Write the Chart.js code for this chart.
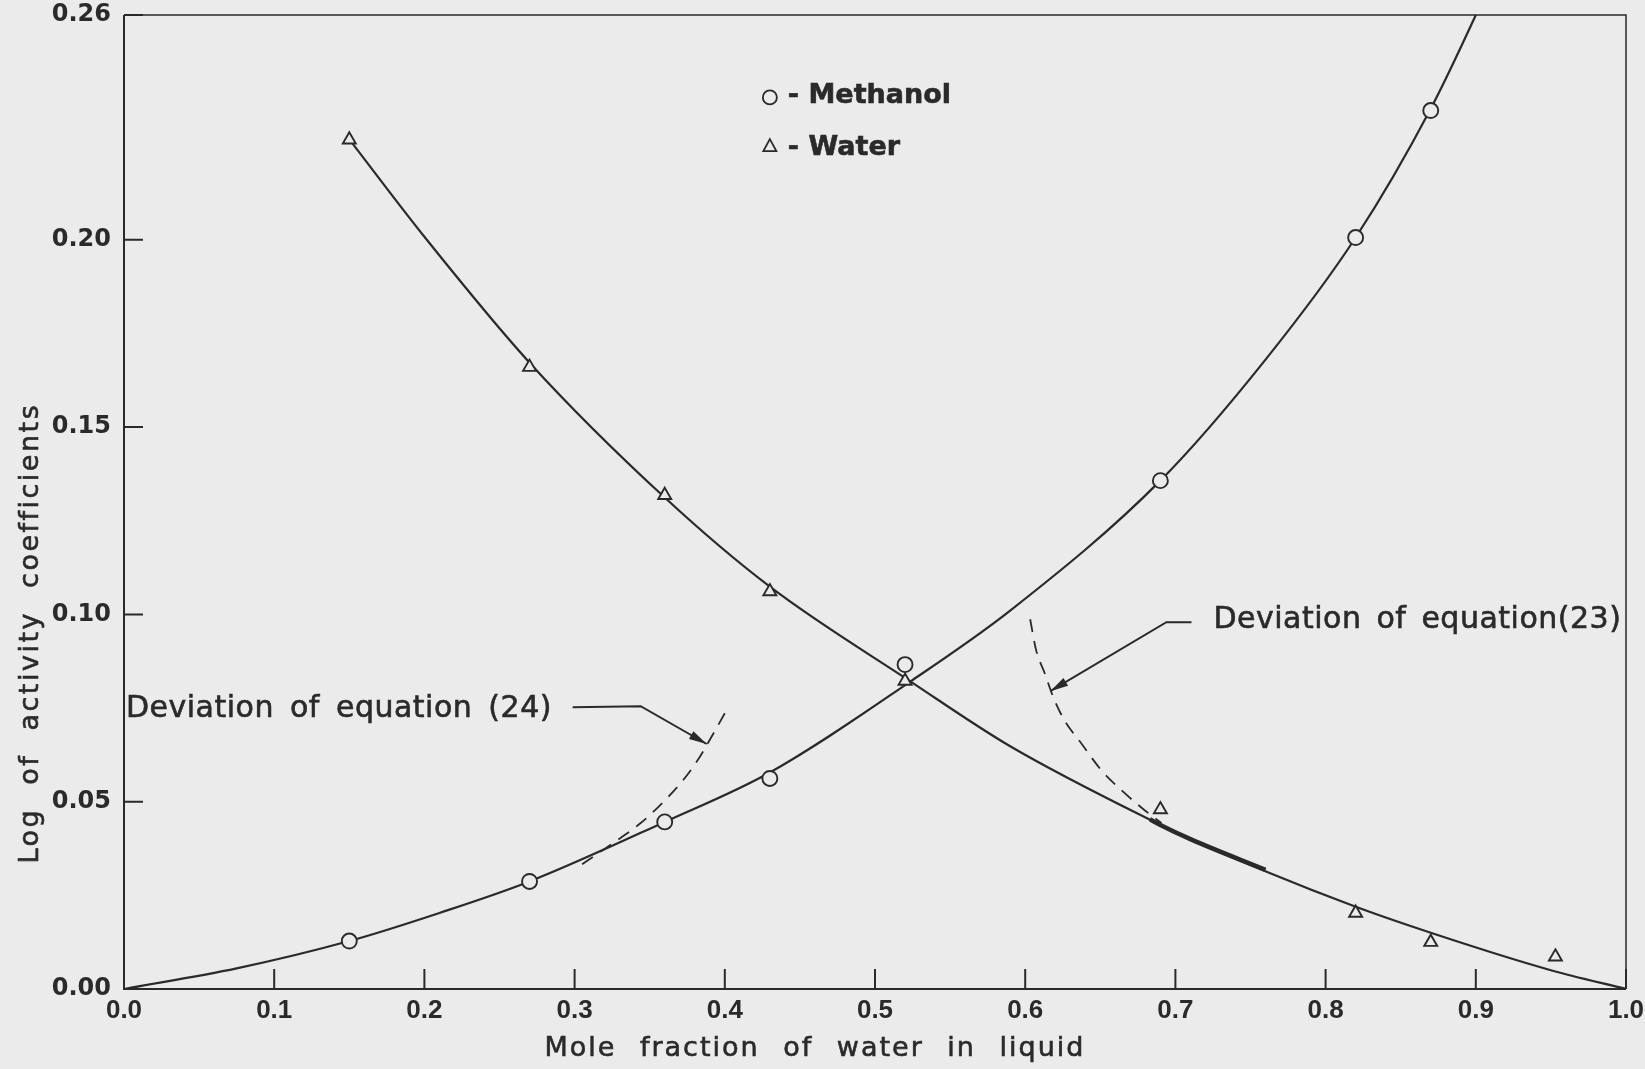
<!DOCTYPE html>
<html>
<head>
<meta charset="utf-8">
<script src="https://cdn.jsdelivr.net/npm/chart.js@4.4.0/dist/chart.umd.min.js"></script>
<style>
  html, body { margin: 0; padding: 0; background: #ebebeb; }
  canvas { display: block; }
</style>
</head>
<body>
<canvas id="chart" width="1645" height="1069"></canvas>
<script>
// measured points
let methanolX = [0.15, 0.27, 0.36, 0.43, 0.52, 0.69, 0.82, 0.87];
let methanolY = [0.0128, 0.0287, 0.0446, 0.0562, 0.0866, 0.1357, 0.2006, 0.2345];
let waterX = [0.15, 0.27, 0.36, 0.43, 0.52, 0.69, 0.82, 0.87, 0.953];
let waterY = [0.2267, 0.166, 0.1318, 0.1061, 0.0822, 0.0479, 0.0203, 0.0125, 0.0086];

// smoothed curves drawn through the points
let methanolCurveX = [0, 0.075, 0.15, 0.21, 0.27, 0.36, 0.43, 0.524, 0.59, 0.69, 0.76, 0.82, 0.87, 0.9, 0.92];
let methanolCurveY = [0, 0.0055, 0.0128, 0.0203, 0.0287, 0.0446, 0.0578, 0.0822, 0.101, 0.1357, 0.168, 0.2006, 0.235, 0.26, 0.278];
let waterCurveX = [0.15, 0.2, 0.27, 0.36, 0.43, 0.524, 0.59, 0.69, 0.71, 0.817, 0.87, 0.95, 1.0];
let waterCurveY = [0.2268, 0.2008, 0.1672, 0.1312, 0.1074, 0.082, 0.0648, 0.0438, 0.040, 0.0224, 0.015, 0.005, 0];
let heavyX = [0.683, 0.69, 0.71, 0.76];
let heavyY = [0.0453, 0.0438, 0.040, 0.0318];

// dashed deviation curves
let dev24X = [0.305, 0.316, 0.3287, 0.344, 0.357, 0.3707, 0.382, 0.3887, 0.4];
let dev24Y = [0.0333, 0.0363, 0.0398, 0.0443, 0.0491, 0.055, 0.0611, 0.0656, 0.0736];
let dev23X = [0.6033, 0.6073, 0.6127, 0.6187, 0.626, 0.6373, 0.6507, 0.664, 0.6793, 0.6907];
let dev23Y = [0.0987, 0.0904, 0.0846, 0.0779, 0.0718, 0.0656, 0.0584, 0.0531, 0.0478, 0.0443];

let xTicks = [0, 0.1, 0.2, 0.3, 0.4, 0.5, 0.6, 0.7, 0.8, 0.9, 1.0];
let yTicks = [0, 0.05, 0.10, 0.15, 0.20, 0.26];

let ink = "#2a2a2a";
let paper = "#ebebeb";
let face = "'DejaVu Sans', sans-serif";

function pts(xs, ys) {
  return xs.map((v, i) => ({ x: v, y: ys[i] }));
}

function curve(xs, ys, width, dash) {
  return {
    data: pts(xs, ys),
    showLine: true,
    pointRadius: 0,
    borderColor: ink,
    borderWidth: width,
    borderDash: dash || [],
    cubicInterpolationMode: "monotone",
    order: 1,
  };
}

let inkPlugin = {
  id: "ink",
  afterDraw(chart) {
    let ctx = chart.ctx;
    let a = chart.chartArea;
    let sx = chart.scales.x;
    let sy = chart.scales.y;
    let X = v => sx.getPixelForValue(v);
    let Y = v => sy.getPixelForValue(v);

    ctx.save();
    ctx.strokeStyle = ink;
    ctx.fillStyle = ink;

    // frame and inward ticks
    ctx.lineWidth = 1.5;
    ctx.beginPath();
    ctx.moveTo(a.left, a.top);
    ctx.lineTo(a.right, a.top);
    ctx.lineTo(a.right, a.bottom);
    ctx.stroke();
    ctx.lineWidth = 2;
    ctx.beginPath();
    ctx.moveTo(a.left, a.top);
    ctx.lineTo(a.left, a.bottom);
    ctx.lineTo(a.right, a.bottom);
    xTicks.forEach(v => { ctx.moveTo(X(v), a.bottom); ctx.lineTo(X(v), a.bottom - 20); });
    yTicks.forEach(v => { ctx.moveTo(a.left, Y(v)); ctx.lineTo(a.left + 19, Y(v)); });
    ctx.stroke();

    function label(text, x, y, size, weight, ls, ws) {
      ctx.font = weight + " " + size + "px " + face;
      ctx.letterSpacing = ls + "px";
      ctx.wordSpacing = ws + "px";
      ctx.fillText(text, x, y);
      ctx.lineWidth = 0.6;
      ctx.strokeText(text, x, y);
    }

    // axis titles
    ctx.textAlign = "center";
    ctx.textBaseline = "middle";
    label("Mole fraction of water in liquid", X(0.46), a.bottom + 60, 27, "normal", 2, 13);
    ctx.save();
    ctx.translate(31, Y(0.095));
    ctx.rotate(-Math.PI / 2);
    label("Log of activity coefficients", 0, 0, 27, "normal", 2.5, 12);
    ctx.restore();

    // legend
    ctx.textAlign = "left";
    ctx.lineWidth = 1.8;
    ctx.beginPath();
    ctx.arc(X(0.43), Y(0.238), 7, 0, Math.PI * 2);
    ctx.stroke();
    let tx = X(0.43), ty = Y(0.225);
    ctx.beginPath();
    ctx.moveTo(tx, ty - 7);
    ctx.lineTo(tx + 6.5, ty + 5);
    ctx.lineTo(tx - 6.5, ty + 5);
    ctx.closePath();
    ctx.stroke();
    label("- Methanol", X(0.43) + 18, Y(0.2385), 27, "bold", 0, 0);
    label("- Water", X(0.43) + 18, Y(0.2245), 27, "bold", 0, 0);

    // annotations
    label("Deviation of equation (24)", X(0.0013), Y(0.0747), 30, "normal", 0.5, 6);
    label("Deviation of equation(23)", X(0.7253), Y(0.0985), 30, "normal", 0.5, 5);
    ctx.letterSpacing = "0px";
    ctx.wordSpacing = "0px";

    function arrow(path) {
      let p = path.map(d => ({ x: X(d[0]), y: Y(d[1]) }));
      ctx.lineWidth = 2;
      ctx.beginPath();
      ctx.moveTo(p[0].x, p[0].y);
      p.slice(1).forEach(q => ctx.lineTo(q.x, q.y));
      ctx.stroke();
      let s = p[p.length - 2], e = p[p.length - 1];
      let ang = Math.atan2(e.y - s.y, e.x - s.x);
      ctx.beginPath();
      ctx.moveTo(e.x, e.y);
      ctx.lineTo(e.x - 18 * Math.cos(ang) + 4.5 * Math.sin(ang), e.y - 18 * Math.sin(ang) - 4.5 * Math.cos(ang));
      ctx.lineTo(e.x - 18 * Math.cos(ang) - 4.5 * Math.sin(ang), e.y - 18 * Math.sin(ang) + 4.5 * Math.cos(ang));
      ctx.closePath();
      ctx.fill();
    }
    arrow([[0.2987, 0.0752], [0.344, 0.0755], [0.388, 0.0654]]);
    arrow([[0.7107, 0.0979], [0.694, 0.0979], [0.6167, 0.0795]]);

    ctx.restore();
  },
};

let chart = new Chart(document.getElementById("chart").getContext("2d"), {
  type: "scatter",
  data: {
    datasets: [
      {
        label: "Methanol",
        data: pts(methanolX, methanolY),
        pointStyle: "circle",
        pointRadius: 7.5,
        borderColor: ink,
        backgroundColor: paper,
        borderWidth: 1.9,
        order: 0,
      },
      {
        label: "Water",
        data: pts(waterX, waterY),
        pointStyle: "triangle",
        pointRadius: 7.5,
        borderColor: ink,
        backgroundColor: paper,
        borderWidth: 1.9,
        order: 0,
      },
      curve(methanolCurveX, methanolCurveY, 2.2),
      curve(waterCurveX, waterCurveY, 2.2),
      curve(heavyX, heavyY, 4.5),
      curve(dev24X, dev24Y, 1.8, [13, 9]),
      curve(dev23X, dev23Y, 1.8, [13, 9]),
    ],
  },
  options: {
    responsive: false,
    animation: false,
    layout: { padding: { top: 15, right: 19, left: 0, bottom: 0 } },
    plugins: {
      legend: { display: false },
      tooltip: { enabled: false },
    },
    scales: {
      x: {
        type: "linear",
        min: 0,
        max: 1,
        afterBuildTicks: s => { s.ticks = xTicks.map(v => ({ value: v })); },
        afterFit: s => { s.height = 80; s.paddingLeft = 0; s.paddingRight = 0; },
        grid: { display: false, drawTicks: false },
        border: { display: false },
        ticks: {
          color: ink,
          padding: 6,
          maxRotation: 0,
          font: { family: "'Liberation Sans', sans-serif", size: 26, weight: "bold" },
          callback: v => v.toFixed(1),
        },
      },
      y: {
        type: "linear",
        min: 0,
        max: 0.26,
        afterBuildTicks: s => { s.ticks = yTicks.map(v => ({ value: v })); },
        afterFit: s => { s.width = 124; s.paddingTop = 0; s.paddingBottom = 0; },
        grid: { display: false, drawTicks: false },
        border: { display: false },
        ticks: {
          color: ink,
          padding: 13,
          font: { family: face, size: 24, weight: "bold" },
          callback: v => v.toFixed(2),
        },
      },
    },
  },
  plugins: [inkPlugin],
});
</script>
</body>
</html>
